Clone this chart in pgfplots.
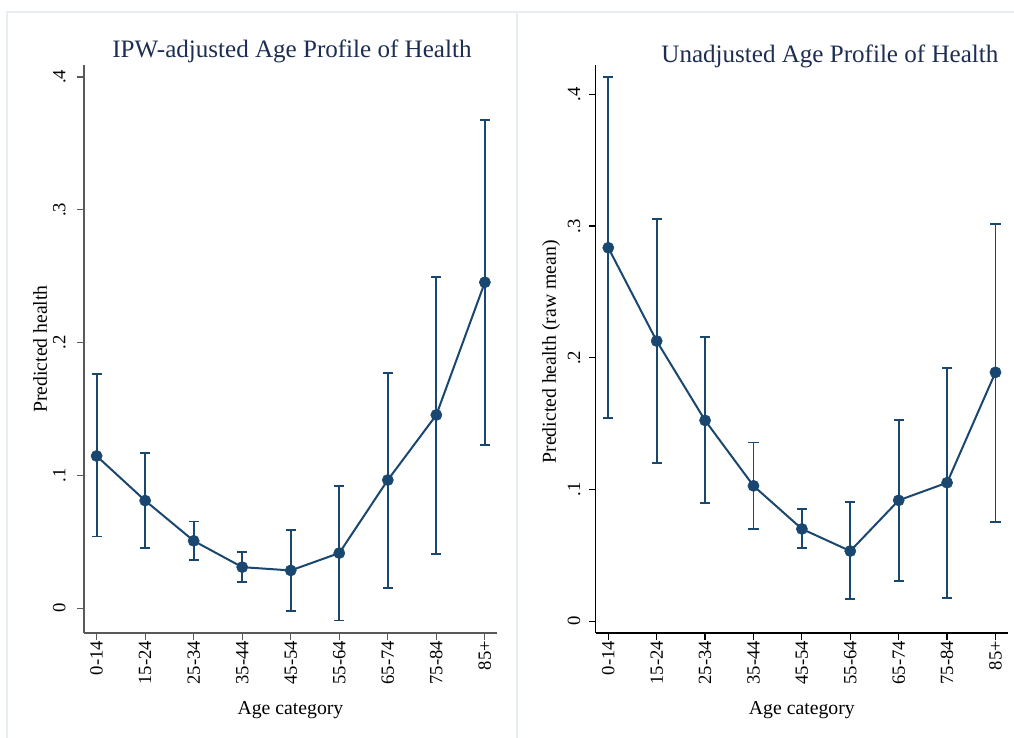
\documentclass[border=0pt]{standalone}
\usepackage{pgfplots}
\pgfplotsset{compat=1.18}
\usepackage{pgfplotstable}
\usepackage{fontspec}
\setmainfont{Liberation Serif}
\definecolor{stnavy}{HTML}{1A476F}
\definecolor{ttl}{HTML}{1E2E52}
\definecolor{frame}{HTML}{E6EEF1}

\pgfplotstableread{
x y lo hi
0 0.1146 0.0540 0.1761
1 0.0810 0.0450 0.1170
2 0.0507 0.0364 0.0653
3 0.0309 0.0200 0.0425
4 0.0284 -0.0020 0.0590
5 0.0415 -0.0093 0.0922
6 0.0965 0.0154 0.1773
7 0.1455 0.0410 0.2496
8 0.2454 0.1229 0.3678
}\ipw

\pgfplotstableread{
x y lo hi
0 0.2835 0.1544 0.4134
1 0.2127 0.1198 0.3055
2 0.1524 0.0899 0.2160
3 0.1027 0.0701 0.1356
4 0.0700 0.0553 0.0850
5 0.0532 0.0166 0.0905
6 0.0917 0.0305 0.1530
7 0.1051 0.0175 0.1924
8 0.1889 0.0754 0.3013
}\raw

\newcommand{\tlf}{\fontsize{14}{16}\selectfont}

\pgfplotsset{
  stata/.style={
    scale only axis,
    axis lines=left,
    axis line style={-, line width=0.9pt},
    xtick={0,...,8},
    xticklabels={{\tlf 0-14},{\tlf 15-24},{\tlf 25-34},{\tlf 35-44},{\tlf 45-54},{\tlf 55-64},{\tlf 65-74},{\tlf 75-84},{\tlf 85+}},
    ytick={0,0.1,0.2,0.3,0.4},
    yticklabels={{\tlf 0},{\tlf .1},{\tlf .2},{\tlf .3},{\tlf .4}},
    tick align=outside,
    major tick length=5pt,
    tick style={line width=0.9pt, black},
    every tick label/.append style={font=\tlf},
    xticklabel style={inner sep=0pt, yshift=-0.75pt, rotate=90, anchor=east},
    ticklabel style={text=black},
    xlabel={Age category},
    xlabel style={font=\fontsize{14.8}{17}\selectfont, at={(axis description cs:0.5,-0.144)}, anchor=base},
    title style={font=\fontsize{18.8}{22}\selectfont, color=ttl, anchor=base},
    clip=false,
  },
  ser/.style={
    color=stnavy, line width=1.5pt,
    mark=*, mark size=4.2pt, mark options={fill=stnavy, draw=stnavy, line width=0.4pt},
    error bars/.cd, y dir=both, y explicit,
    error bar style={line width=1.4pt, color=stnavy},
    error mark=-,
    error mark options={rotate=90, mark size=3.8pt, line width=1.4pt, color=stnavy},
  },
}

\begin{document}
\begin{tikzpicture}
\path[use as bounding box] (0pt,0pt) rectangle (760.5pt,-553.5pt);
\fill[white] (0pt,0pt) rectangle (760.5pt,-553.5pt);
% panel frames
\draw[frame, line width=1pt] (5.25pt,-553.5pt) -- (5.25pt,-9pt) -- (760.5pt,-9pt);
\draw[frame, line width=1.5pt] (387.75pt,-9pt) -- (387.75pt,-553.5pt);

\begin{axis}[stata,
  at={(63pt,-474.75pt)}, anchor=south west,
  width=309.75pt, height=426pt,
  xmin=-0.26, xmax=8.25, ymin=-0.0187, ymax=0.409,
  axis line style={-, line width=0.9pt, draw=black!65},
  tick style={line width=0.9pt, draw=black!65},
  yticklabel style={inner sep=0pt, xshift=-9pt, rotate=90, anchor=base},
  ylabel={Predicted health},
  ylabel style={font=\fontsize{14.8}{17}\selectfont, at={(axis description cs:-0.1065,0.5)}, anchor=center},
  title={IPW-adjusted Age Profile of Health},
  title style={at={(axis description cs:0.5035,1.0135)}, yshift=-6.5pt},
]
\addplot+[ser] table[x=x, y=y, y error plus expr=\thisrow{hi}-\thisrow{y}, y error minus expr=\thisrow{y}-\thisrow{lo}] {\ipw};
\end{axis}

\begin{axis}[stata,
  at={(446.775pt,-474.75pt)}, anchor=south west,
  width=309.2pt, height=426pt,
  xmin=-0.26, xmax=8.258, ymin=-0.00904, ymax=0.4223,
  yticklabel style={inner sep=0pt, xshift=-6.75pt, rotate=90, anchor=base},
  ylabel={Predicted health (raw mean)},
  ylabel style={font=\fontsize{14.8}{17}\selectfont, at={(axis description cs:-0.1084,0.495)}, anchor=center},
  title={Unadjusted Age Profile of Health},
  title style={at={(axis description cs:0.5680,1.0055)}, yshift=-6.5pt},
]
\addplot+[ser] table[x=x, y=y, y error plus expr=\thisrow{hi}-\thisrow{y}, y error minus expr=\thisrow{y}-\thisrow{lo}] {\raw};
\end{axis}
\end{tikzpicture}
\end{document}
